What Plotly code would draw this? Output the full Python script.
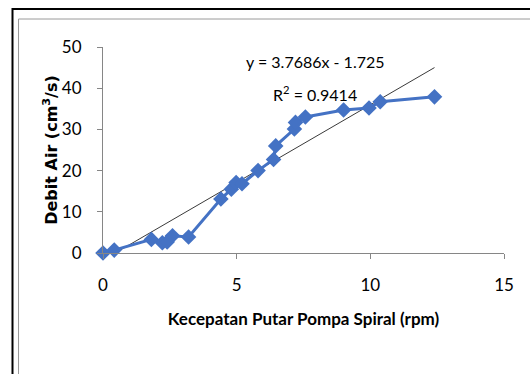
import plotly.graph_objects as go

# Data
rpm = [0.0, 0.42, 1.81, 2.22, 2.4, 2.6, 3.2, 4.41, 4.8, 4.98, 5.2, 5.8, 6.38, 6.46,
       7.16, 7.2, 7.57, 9.0, 9.95, 10.37, 12.4]
debit = [0.0, 0.7, 3.3, 2.5, 2.7, 4.2, 3.9, 13.1, 15.5, 17.1, 16.8, 20.0, 22.7, 26.0,
         30.1, 31.7, 33.0, 34.7, 35.2, 36.7, 37.9]
slope = 3.7686
intercept = -1.725
r2 = 0.9414
x_ticks = [0, 5, 10, 15]
y_ticks = [0, 10, 20, 30, 40, 50]

W, H = 530, 374
L, R, T, B = 103, 26, 47, 121
pw, ph = W - L - R, H - T - B
FONT = "Lato"

def px(x):
    return (x - L) / pw

def py(y):
    return (H - B - y) / ph

trend_x = [min(rpm), max(rpm)]
trend_y = [slope * v + intercept for v in trend_x]

fig = go.Figure()
fig.add_trace(go.Scatter(
    x=trend_x, y=trend_y, mode="lines",
    line=dict(color="#3a3a3a", width=1), hoverinfo="skip"))
fig.add_trace(go.Scatter(
    x=rpm, y=debit, mode="lines+markers", cliponaxis=False,
    line=dict(color="#4472C4", width=3),
    marker=dict(symbol="diamond", size=12, color="#4472C4")))

fig.add_annotation(x=7.93, y=46.4, xref="x", yref="y",
                   text=f"y = {slope}x - {abs(intercept)}", showarrow=False,
                   font=dict(family=FONT, size=16, color="#000"))
fig.add_annotation(x=7.93, y=38.8, xref="x", yref="y",
                   text=f"R<sup>2</sup> = {r2}", showarrow=False,
                   font=dict(family=FONT, size=16, color="#000"))

# frame lines (outer black, inner gray)
fig.add_shape(type="rect", xref="paper", yref="paper",
              x0=px(12.5), x1=px(540), y0=py(9), y1=py(390),
              line=dict(color="#000", width=2))
fig.add_shape(type="rect", xref="paper", yref="paper",
              x0=px(18.5), x1=px(540), y0=py(19), y1=py(390),
              line=dict(color="#9a9a9a", width=1))

axis_common = dict(showgrid=False, zeroline=False, showline=True,
                   linecolor="#868686", linewidth=1, ticks="outside",
                   tickcolor="#868686", ticklen=5,
                   tickfont=dict(family=FONT, size=17, color="#000"))
fig.update_xaxes(range=[0, 15], tickvals=x_ticks, ticklabelstandoff=12, **axis_common,
                 title=dict(text="<b>Kecepatan Putar Pompa Spiral (rpm)</b>",
                            font=dict(family=FONT, size=17, color="#000"),
                            standoff=18))
fig.update_yaxes(range=[0, 50], tickvals=y_ticks, ticklabelstandoff=12, **axis_common,
                 title=dict(text="<b>Debit Air (cm<sup>3</sup>/s)</b>",
                            font=dict(family="DejaVu Sans", size=16, color="#000"),
                            standoff=0))

fig.update_layout(width=W, height=H, margin=dict(l=L, r=R, t=T, b=B),
                  plot_bgcolor="white", paper_bgcolor="white", showlegend=False)
fig.write_html("out.html")
